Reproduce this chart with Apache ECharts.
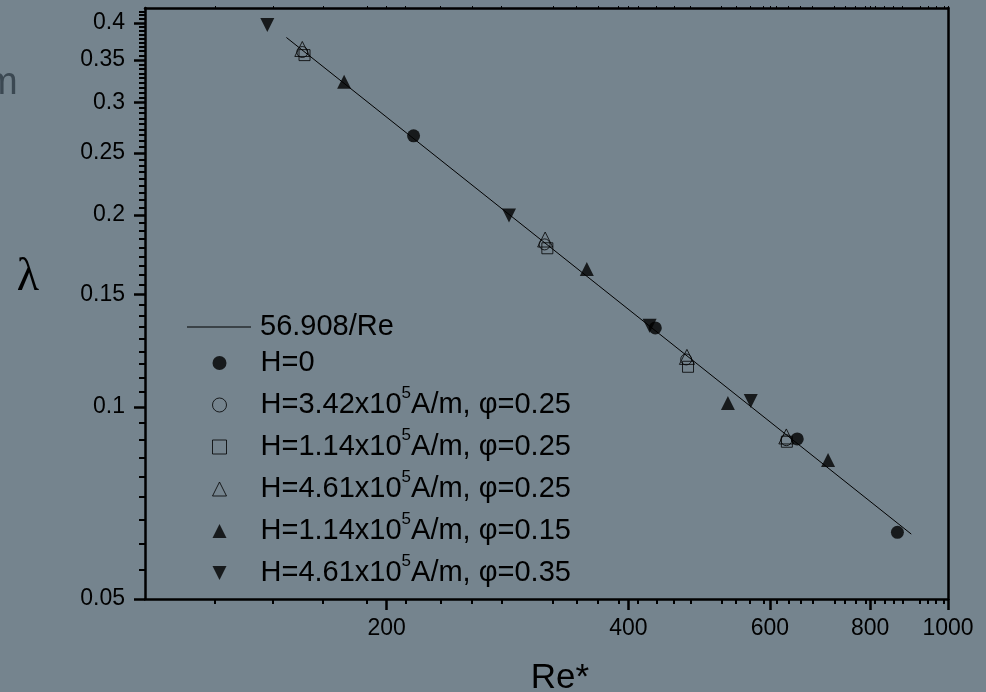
<!DOCTYPE html>
<html>
<head>
<meta charset="utf-8">
<script src="https://cdn.jsdelivr.net/npm/echarts@6/dist/echarts.min.js"></script>
<style>
  html, body { margin: 0; padding: 0; background: #75848e; }
  #chart { width: 986px; height: 692px; }
</style>
</head>
<body>
<div id="chart"></div>
<script>
// fitted line 56.908/Re, drawn between its two end points
const fitName = '56.908/Re';
const fitRe = [150, 900];
const fitLambda = [0.3794, 0.0632];

// measured points, one pair of arrays per series
const h0Re = [216, 432, 649, 865];
const h0Lambda = [0.266, 0.133, 0.0891, 0.0636];
const h342Re = [157, 314.5, 472, 629];
const h342Lambda = [0.360, 0.1798, 0.1187, 0.0887];
const h114Re = [158, 317, 474.5, 630];
const h114Lambda = [0.356, 0.1773, 0.1156, 0.0882];
const h461Re = [157, 315, 473, 629];
const h461Lambda = [0.364, 0.183, 0.1198, 0.0899];
const h114p15Re = [177, 355, 532, 709];
const h114p15Lambda = [0.3235, 0.1645, 0.1014, 0.0826];
const h461p35Re = [142, 284, 425, 568];
const h461p35Lambda = [0.397, 0.1995, 0.134, 0.1022];

// axis ticks
const xMajorTicks = [200, 400, 600, 800, 1000];
const yMajorTicks = [0.05, 0.1, 0.15, 0.2, 0.25, 0.3, 0.35, 0.4];
const xRange = [100, 1000];
const yRange = [0.05, 0.422];

const lg = Math.log10;
const font = '"Liberation Sans", Arial, sans-serif';

// minor ticks: 8 between each pair of majors
const xMinorTicks = [];
for (let k = 1; 100 + k * 200 / 9 < 1000; k++) {
  if (k % 9 !== 0) xMinorTicks.push(100 + k * 200 / 9);
}
const yMinorTicks = [];
for (let k = 1; 0.05 + k * 0.05 / 9 <= 0.4225; k++) {
  if (k % 9 !== 0) yMinorTicks.push(0.05 + k * 0.05 / 9);
}

const toPoints = (xs, ys) => xs.map((x, i) => [lg(x), lg(ys[i])]);

// path symbols keep their shape inside the wide legend box
const triUp = 'path://M5,0L10,10L0,10Z';
const triDown = 'path://M0,0L10,0L5,10Z';
const square = 'path://M0,0L10,0L10,10L0,10Z';
const lineIcon = 'path://M0,0L64,0L64,1L0,1Z';

const chart = echarts.init(document.getElementById('chart'));

const xBase = { type: 'value', min: lg(xRange[0]), max: lg(xRange[1]), splitLine: { show: false } };
const yBase = { type: 'value', min: lg(yRange[0]), max: lg(yRange[1]), splitLine: { show: false } };
const axisLine = { show: true, lineStyle: { color: '#000', width: 2.5 } };

const scatterDefs = [
  { name: 'H=0', re: h0Re, lam: h0Lambda, symbol: 'circle', size: 13, filled: true },
  { name: 'H=3.42x10^5A/m, φ=0.25', re: h342Re, lam: h342Lambda, symbol: 'circle', size: 11, filled: false },
  { name: 'H=1.14x10^5A/m, φ=0.25', re: h114Re, lam: h114Lambda, symbol: square, size: 11, filled: false },
  { name: 'H=4.61x10^5A/m, φ=0.25', re: h461Re, lam: h461Lambda, symbol: triUp, size: 15, filled: false },
  { name: 'H=1.14x10^5A/m, φ=0.15', re: h114p15Re, lam: h114p15Lambda, symbol: triUp, size: 14, filled: true },
  { name: 'H=4.61x10^5A/m, φ=0.35', re: h461p35Re, lam: h461p35Lambda, symbol: triDown, size: 14, filled: true }
];

const legendText = {
  color: '#000',
  fontFamily: font,
  fontSize: 29,
  lineHeight: 40,
  rich: {
    sup: { fontSize: 17, lineHeight: 16, verticalAlign: 'top', color: '#000', fontFamily: font }
  }
};

chart.setOption({
  backgroundColor: '#75848e',
  animation: false,
  grid: { left: 145, right: 38, top: 8, bottom: 93 },
  xAxis: [
    {
      ...xBase, position: 'bottom',
      axisLine: axisLine,
      axisTick: { customValues: xMajorTicks.map(lg), length: 11, lineStyle: { color: '#000', width: 2.5 } },
      axisLabel: {
        customValues: xMajorTicks.map(lg),
        formatter: v => String(Math.round(Math.pow(10, v))),
        margin: 18, fontSize: 23, color: '#000', fontFamily: font
      }
    },
    {
      ...xBase, position: 'bottom',
      axisLine: { show: false },
      axisTick: { customValues: xMinorTicks.map(lg), length: 5, lineStyle: { color: '#000', width: 2 } },
      axisLabel: { show: false }
    },
    {
      ...xBase, position: 'top',
      axisLine: axisLine,
      axisTick: { customValues: xMajorTicks.concat(xMinorTicks).map(lg), length: 2, lineStyle: { color: '#000', width: 1 } },
      axisLabel: { show: false }
    }
  ],
  yAxis: [
    {
      ...yBase, position: 'left',
      axisLine: axisLine,
      axisTick: { customValues: yMajorTicks.map(lg), length: 11, lineStyle: { color: '#000', width: 2.5 } },
      axisLabel: {
        customValues: yMajorTicks.map(lg),
        formatter: v => String(parseFloat(Math.pow(10, v).toFixed(3))),
        margin: 20, fontSize: 23, color: '#000', fontFamily: font
      }
    },
    {
      ...yBase, position: 'left',
      axisLine: { show: false },
      axisTick: { customValues: yMinorTicks.map(lg), length: 6, lineStyle: { color: '#000', width: 2 } },
      axisLabel: { show: false }
    },
    {
      ...yBase, position: 'right',
      axisLine: axisLine,
      axisTick: { show: false },
      axisLabel: { show: false }
    }
  ],
  legend: [
    {
      data: [{ name: fitName, icon: lineIcon }],
      orient: 'vertical', left: 187, top: 307, padding: 0,
      itemWidth: 64, itemHeight: 13,
      symbolKeepAspect: true,
      textStyle: { ...legendText, padding: [0, 0, 0, 4] }
    },
    {
      // the box is laid out from the icons' left edge, so left = marker centre - 7
      data: scatterDefs.map(d => d.name),
      orient: 'vertical', left: 212, top: 343, padding: 0, itemGap: 2,
      itemWidth: 72, itemHeight: 14,
      symbolKeepAspect: true,
      itemStyle: { borderWidth: 1 },
      formatter: name => name.replace('^5', '{sup|5}'),
      textStyle: legendText
    }
  ],
  series: [
    {
      type: 'line', name: fitName,
      data: toPoints(fitRe, fitLambda),
      symbol: 'none',
      lineStyle: { color: '#000', width: 1 },
      itemStyle: { color: '#000' },
      z: 1
    }
  ].concat(scatterDefs.map(d => ({
    type: 'scatter', name: d.name,
    data: toPoints(d.re, d.lam),
    symbol: d.symbol,
    symbolSize: d.size,
    symbolKeepAspect: true,
    itemStyle: d.filled
      ? { color: '#000' }
      : { color: 'rgba(0,0,0,0)', borderColor: '#000', borderWidth: 1 },
    z: 3
  }))),
  graphic: [
    {
      type: 'text', x: 28, y: 278,
      style: {
        text: 'λ', font: '46px "Liberation Serif", "DejaVu Serif", serif', fill: '#000',
        align: 'center', verticalAlign: 'middle'
      }
    },
    {
      type: 'text', x: 560, y: 678,
      style: {
        text: 'Re*', font: '35px "Liberation Sans", Arial, sans-serif', fill: '#000',
        align: 'center', verticalAlign: 'middle'
      }
    },
    {
      type: 'text', left: -14, top: 65,
      style: { text: 'm', font: '38px "Liberation Sans", Arial, sans-serif', fill: '#3b4852' }
    }
  ]
});
</script>
</body>
</html>
